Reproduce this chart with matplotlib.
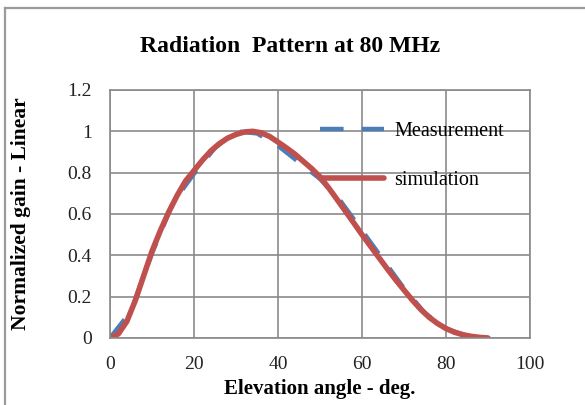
import matplotlib
matplotlib.use("Agg")
import matplotlib.pyplot as plt
from matplotlib.lines import Line2D

plt.rcParams['font.family'] = ['Liberation Serif', 'DejaVu Serif']
plt.rcParams['lines.scale_dashes'] = False

title = "Radiation  Pattern at 80 MHz"
xlabel = "Elevation angle - deg."
ylabel = "Normalized gain - Linear"
labels = ["Measurement", "simulation"]

sim_angle = [0, 2, 4, 6, 8, 10, 12, 14, 16, 18, 20, 22, 24, 26, 28, 30, 32, 34, 36,
             38, 40, 42, 44, 46, 48, 50, 52, 54, 56, 58, 60, 62, 64, 66, 68, 70, 72,
             74, 76, 78, 80, 82, 84, 86, 88, 90]
sim_gain = [0.0, 0.02, 0.08, 0.18, 0.30, 0.42, 0.52, 0.61, 0.69, 0.76, 0.81, 0.86,
            0.905, 0.94, 0.967, 0.985, 0.997, 1.0, 0.993, 0.975, 0.948, 0.92, 0.89,
            0.855, 0.82, 0.78, 0.728, 0.672, 0.615, 0.558, 0.50, 0.445, 0.39, 0.335,
            0.282, 0.232, 0.183, 0.138, 0.10, 0.07, 0.046, 0.028, 0.016, 0.008,
            0.003, 0.0]

meas_angle = [0, 5, 10, 15, 20, 25, 30, 35, 40, 45, 50, 55, 60, 65, 70, 75, 80, 85, 90]
meas_gain = [0.0, 0.13, 0.41, 0.655, 0.795, 0.92, 1.0, 0.99, 0.93, 0.85, 0.77, 0.66,
             0.52, 0.38, 0.24, 0.12, 0.045, 0.01, 0.0]

xticks = [0, 20, 40, 60, 80, 100]
yticks = [0, 0.2, 0.4, 0.6, 0.8, 1, 1.2]
yticklabels = ["0", "0.2", "0.4", "0.6", "0.8", "1", "1.2"]

W, H = 585, 405
fig = plt.figure(figsize=(W / 100, H / 100), dpi=100)

# chart border (top and left only visible)
fig.add_artist(Line2D([5 / W, 5 / W], [0, 1 - 8 / H], color='#9a9a9a', lw=1.6))
fig.add_artist(Line2D([5 / W, 1], [1 - 8 / H, 1 - 8 / H], color='#9a9a9a', lw=1.6))

ax = fig.add_axes([110 / W, (H - 338) / H, 420 / W, 248 / H])
ax.set_xlim(0, 100)
ax.set_ylim(0, 1.2)
ax.set_xticks(xticks)
ax.set_yticks(yticks)
ax.set_yticklabels(yticklabels)
ax.grid(True, color='#8a8a8a', lw=1.2)
ax.set_axisbelow(True)
for s in ax.spines.values():
    s.set_color('#8a8a8a')
    s.set_linewidth(1.2)
ax.tick_params(axis='x', length=0, labelsize=14, pad=13, colors='#222222')
ax.tick_params(axis='y', length=0, labelsize=14, pad=13, colors='#222222')

ax.plot(meas_angle, meas_gain, color='#4A7EBB', lw=3.2, dashes=(17, 13),
        label=labels[0], solid_capstyle='butt', dash_capstyle='butt')
ax.plot(sim_angle, sim_gain, color='#C0504D', lw=4.0, label=labels[1],
        solid_capstyle='round')

ax.legend(loc='upper left', bbox_to_anchor=(0.5, 0.87), frameon=False,
          fontsize=14.5, handlelength=3.2, handletextpad=0.5, labelspacing=1.45,
          borderaxespad=0, borderpad=0)

fig.text(290 / W, 1 - 47 / H, title, ha='center', va='center', fontsize=17,
         fontweight='bold')
ax.set_xlabel(xlabel, fontsize=15, fontweight='bold', labelpad=4)
ax.set_ylabel(ylabel, fontsize=15.5, fontweight='bold', labelpad=26)

fig.savefig("out.png", dpi=100)
